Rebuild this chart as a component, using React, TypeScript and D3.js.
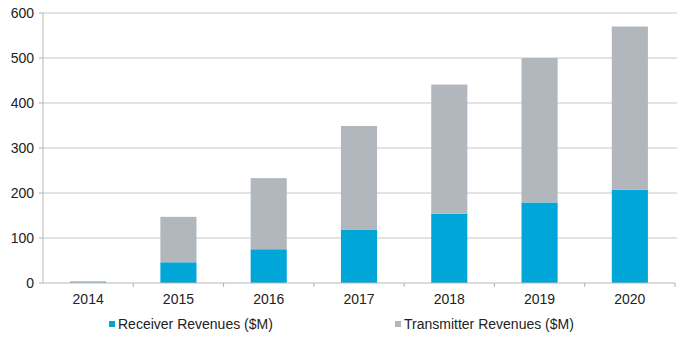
import React from "react";
import * as d3 from "d3";

const years = ["2014", "2015", "2016", "2017", "2018", "2019", "2020"];
const receiver = [1, 46, 75, 118, 154, 179, 207];
const transmitter = [3, 101, 158, 231, 287, 321, 363];
const yTicks = [0, 100, 200, 300, 400, 500, 600];
const seriesNames = ["Receiver Revenues ($M)", "Transmitter Revenues ($M)"];
const colors = ["#00a6d8", "#b1b7bd"];

export default function App() {
  const W = 692, H = 344;
  const left = 43, right = 675, top = 13, bottom = 283;
  const x = d3.scaleBand<string>().domain(years).range([left, right]).paddingInner(0.6).paddingOuter(0.3);
  const band = d3.scaleBand<string>().domain(years).range([left, right]);
  const y = d3.scaleLinear().domain([0, 600]).range([bottom, top]);
  const font = "'Liberation Sans', Arial, sans-serif";
  const rows = years.map((yr, i) => ({ yr, r: receiver[i], t: transmitter[i] }));
  const stack = d3.stack<any>().keys(["r", "t"])(rows);

  return (
    <svg width={W} height={H} style={{ position: "absolute", left: 0, top: 0, background: "#fff" }}>
      {yTicks.map((t) => (
        <g key={t}>
          {t > 0 && <line x1={left} x2={right + 2} y1={y(t)} y2={y(t)} stroke="#dadada" strokeWidth={1.3} />}
          <line x1={left - 4} x2={left} y1={y(t)} y2={y(t)} stroke="#b0b0b0" />
          <text x={left - 9} y={y(t)} dy="0.35em" textAnchor="end" fontFamily={font} fontSize={14} fill="#222">{t}</text>
        </g>
      ))}
      <line x1={left} x2={left} y1={top} y2={bottom} stroke="#b8b8b8" />
      {stack.map((s, si) =>
        s.map((d, i) => (
          <rect key={si + "-" + i} x={x(years[i])} width={x.bandwidth()} y={y(d[1])} height={y(d[0]) - y(d[1])} fill={colors[si]} />
        ))
      )}
      <line x1={left} x2={right} y1={bottom} y2={bottom} stroke="#b8b8b8" strokeWidth={1.2} />
      {years.map((yr) => (
        <g key={yr}>
          <line x1={band(yr)! + band.bandwidth()} x2={band(yr)! + band.bandwidth()} y1={bottom} y2={bottom + 4} stroke="#b0b0b0" />
          <text x={band(yr)! + band.bandwidth() / 2} y={bottom + 21} textAnchor="middle" fontFamily={font} fontSize={14} fill="#222">{yr}</text>
        </g>
      ))}
      {seriesNames.map((n, i) => {
        const lx = i === 0 ? 109 : 395;
        return (
          <g key={n}>
            <rect x={lx} y={321} width={6} height={6} fill={colors[i]} />
            <text x={lx + 9} y={329} fontFamily={font} fontSize={14} fill="#222">{n}</text>
          </g>
        );
      })}
    </svg>
  );
}
